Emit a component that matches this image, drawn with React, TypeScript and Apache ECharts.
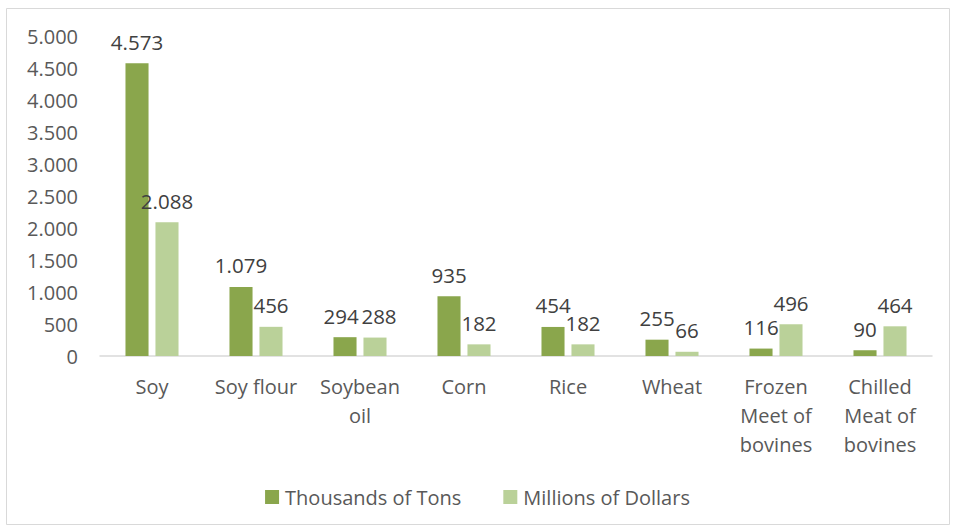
import React, { useEffect, useRef } from "react";
import * as echarts from "echarts";

const categories = [
  "Soy",
  "Soy flour",
  "Soybean\noil",
  "Corn",
  "Rice",
  "Wheat",
  "Frozen\nMeet of\nbovines",
  "Chilled\nMeat of\nbovines",
];
const tons = [4573, 1079, 294, 935, 454, 255, 116, 90];
const dollars = [2088, 456, 288, 182, 182, 66, 496, 464];
const seriesNames = ["Thousands of Tons", "Millions of Dollars"];

const fmt = (v: number) => {
  const s = String(Math.round(v));
  return s.replace(/\B(?=(\d{3})+(?!\d))/g, ".");
};

const FONT = "'Open Sans', 'Noto Sans', sans-serif";
const TXT = "#595959";

const labelBase = {
  show: true,
  position: "top",
  distance: 11,
  fontSize: 20.5,
  color: "#404040",
  fontFamily: FONT,
  formatter: (p: any) => fmt(p.value),
};

export default function App() {
  const ref = useRef<HTMLDivElement>(null);
  useEffect(() => {
    document.body.style.margin = "0";
    const chart = echarts.init(ref.current!, undefined, { renderer: "svg" });
    chart.setOption({
      animation: false,
      backgroundColor: "#ffffff",
      textStyle: { fontFamily: FONT },
      graphic: [
        {
          type: "rect",
          shape: { x: 6.5, y: 8.5, width: 943, height: 516 },
          style: { fill: "none", stroke: "#d9d9d9", lineWidth: 1 },
          silent: true,
        },
      ],
      grid: { left: 100, right: 23, top: 36, bottom: 176, containLabel: false },
      legend: {
        bottom: 20,
        left: "center",
        itemWidth: 14,
        itemHeight: 14,
        itemGap: 42,
        icon: "rect",
        textStyle: { fontSize: 20, color: TXT, fontFamily: FONT, padding: [0, 0, 0, 1] },
        data: seriesNames,
      },
      xAxis: {
        type: "category",
        data: categories,
        axisLine: { lineStyle: { color: "#d9d9d9", width: 1.5 } },
        axisTick: { show: false },
        axisLabel: {
          fontSize: 20,
          color: TXT,
          lineHeight: 29,
          margin: 16,
          interval: 0,
          fontFamily: FONT,
        },
      },
      yAxis: {
        type: "value",
        min: 0,
        max: 5000,
        interval: 500,
        axisLine: { show: false },
        axisTick: { show: false },
        splitLine: { show: false },
        axisLabel: {
          fontSize: 20,
          color: TXT,
          margin: 22,
          fontFamily: FONT,
          formatter: (v: number) => fmt(v),
        },
      },
      series: [
        {
          name: seriesNames[0],
          type: "bar",
          data: tons.map((v, i) =>
            i === 2 ? { value: v, label: { offset: [-4, 0] } } : v
          ),
          barGap: "30%",
          barCategoryGap: "49%",
          itemStyle: { color: "#8aa64c" },
          label: labelBase,
        },
        {
          name: seriesNames[1],
          type: "bar",
          data: dollars.map((v, i) =>
            i === 2 ? { value: v, label: { offset: [4, 0] } } : v
          ),
          itemStyle: { color: "#bad199" },
          label: labelBase,
        },
      ],
    });
    return () => chart.dispose();
  }, []);
  return (
    <div
      ref={ref}
      style={{ position: "absolute", left: 0, top: 0, width: 955, height: 532 }}
    />
  );
}
